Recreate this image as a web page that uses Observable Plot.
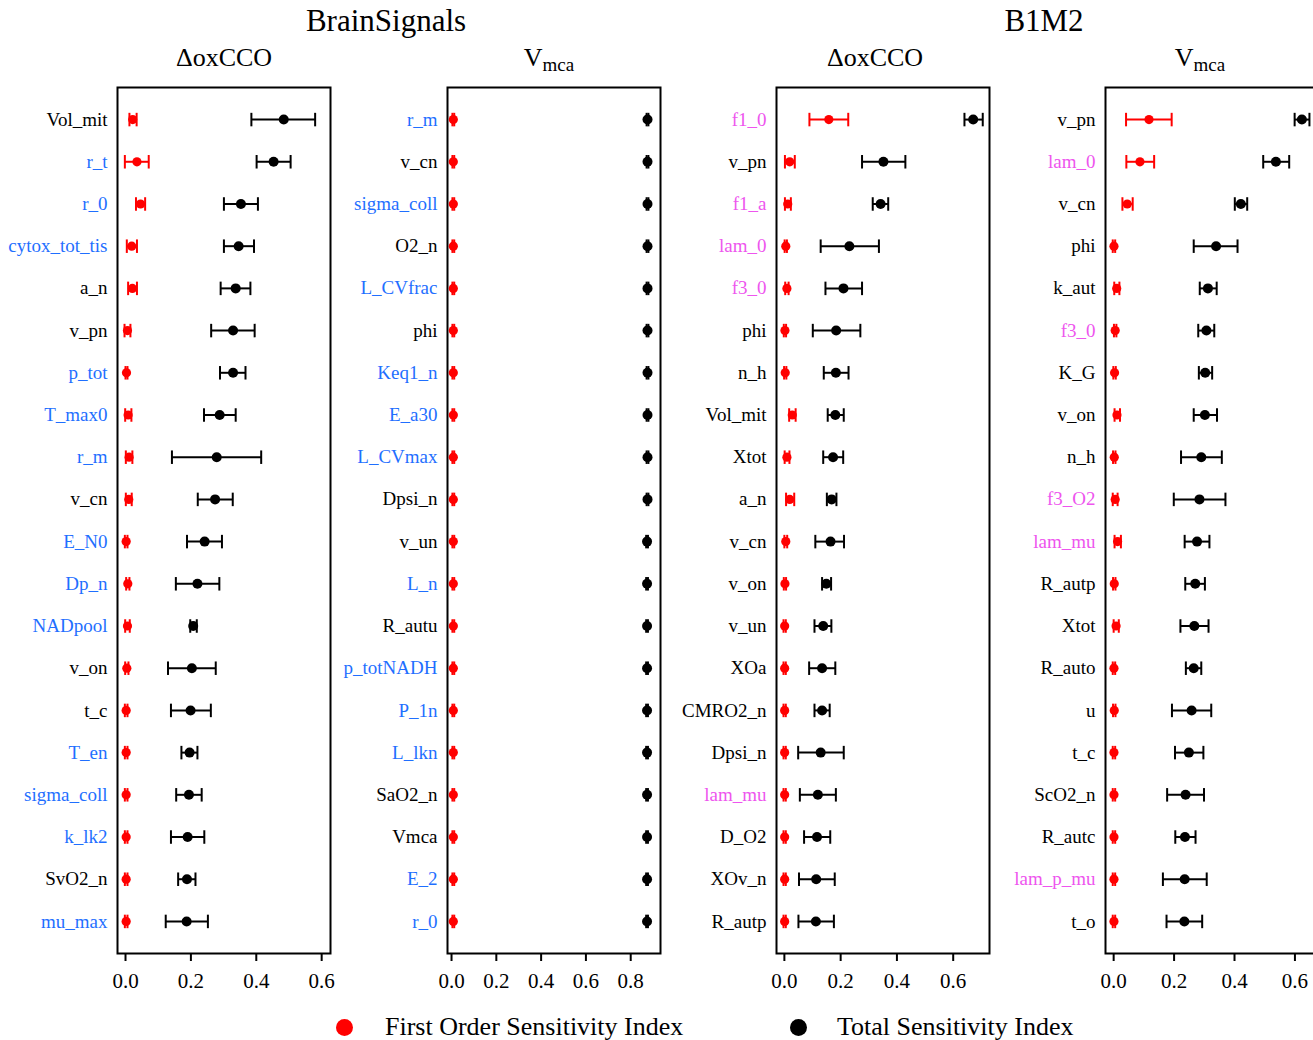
<!DOCTYPE html>
<html>
<head>
<meta charset="utf-8">
<script src="https://cdn.jsdelivr.net/npm/d3@7"></script>
<script src="https://cdn.jsdelivr.net/npm/@observablehq/plot@0.6"></script>
<style>
  html, body { margin: 0; padding: 0; background: #fff; }
  body { width: 1313px; height: 1040px; overflow: hidden; position: relative; font-family: "Liberation Serif", "DejaVu Serif", serif; color: #000; }
  .abs { position: absolute; font-family: "Liberation Serif", serif; }
  .title { font-size: 31px; transform: translateX(-50%); white-space: nowrap; }
  .sub { font-size: 26px; transform: translateX(-50%); white-space: nowrap; }
  .sub sub { font-size: 19px; vertical-align: -5px; }
  .legend { font-size: 26px; white-space: nowrap; display: flex; align-items: center; }
  .ldot { width: 17px; height: 17px; border-radius: 50%; display: inline-block; }
</style>
</head>
<body>
<script>
// ---------- DATA ----------
// Panel 1: BrainSignals, ΔoxCCO
const p1Names = ["Vol_mit","r_t","r_0","cytox_tot_tis","a_n","v_pn","p_tot","T_max0","r_m","v_cn","E_N0","Dp_n","NADpool","v_on","t_c","T_en","sigma_coll","k_lk2","SvO2_n","mu_max"];
const p1Group = ["k","b","b","b","k","k","b","b","b","k","b","b","b","k","k","b","b","b","k","b"];
const p1First   = [0.022,0.035,0.046,0.019,0.021,0.006,0.003,0.008,0.011,0.010,0.002,0.007,0.006,0.004,0.002,0.002,0.002,0.002,0.002,0.002];
const p1FirstLo = [0.012,-0.002,0.032,0.004,0.008,-0.003,0.000,-0.001,0.001,0.001,-0.002,0.002,-0.001,-0.001,-0.002,-0.002,-0.002,-0.002,-0.002,-0.002];
const p1FirstHi = [0.034,0.071,0.060,0.035,0.035,0.015,0.006,0.018,0.021,0.019,0.006,0.012,0.013,0.009,0.006,0.006,0.006,0.006,0.006,0.006];
const p1Total   = [0.484,0.453,0.353,0.346,0.337,0.329,0.329,0.288,0.279,0.274,0.242,0.220,0.207,0.203,0.199,0.196,0.194,0.190,0.188,0.187];
const p1TotalLo = [0.385,0.401,0.301,0.301,0.291,0.262,0.289,0.240,0.142,0.221,0.188,0.154,0.198,0.130,0.139,0.171,0.155,0.139,0.161,0.123];
const p1TotalHi = [0.580,0.505,0.405,0.393,0.382,0.395,0.367,0.337,0.415,0.328,0.295,0.287,0.218,0.276,0.261,0.220,0.233,0.241,0.214,0.252];

// Panel 2: BrainSignals, Vmca
const p2Names = ["r_m","v_cn","sigma_coll","O2_n","L_CVfrac","phi","Keq1_n","E_a30","L_CVmax","Dpsi_n","v_un","L_n","R_autu","p_totNADH","P_1n","L_lkn","SaO2_n","Vmca","E_2","r_0"];
const p2Group = ["b","k","b","k","b","k","b","b","b","k","k","b","k","b","b","b","k","k","b","b"];
const p2First   = [0.008,0.008,0.008,0.008,0.008,0.008,0.008,0.008,0.008,0.008,0.008,0.008,0.008,0.008,0.008,0.008,0.008,0.008,0.008,0.008];
const p2FirstLo = [0.004,0.004,0.004,0.004,0.004,0.004,0.004,0.004,0.004,0.004,0.004,0.004,0.004,0.004,0.004,0.004,0.004,0.004,0.004,0.004];
const p2FirstHi = [0.012,0.012,0.012,0.012,0.012,0.012,0.012,0.012,0.012,0.012,0.012,0.012,0.012,0.012,0.012,0.012,0.012,0.012,0.012,0.012];
const p2Total   = [0.875,0.875,0.875,0.875,0.875,0.875,0.875,0.875,0.875,0.875,0.873,0.873,0.873,0.873,0.873,0.873,0.873,0.873,0.873,0.873];
const p2TotalLo = [0.871,0.871,0.871,0.871,0.871,0.871,0.871,0.871,0.871,0.871,0.869,0.869,0.869,0.869,0.869,0.869,0.869,0.869,0.869,0.869];
const p2TotalHi = [0.879,0.879,0.879,0.879,0.879,0.879,0.879,0.879,0.879,0.879,0.877,0.877,0.877,0.877,0.877,0.877,0.877,0.877,0.877,0.877];

// Panel 3: B1M2, ΔoxCCO
const p3Names = ["f1_0","v_pn","f1_a","lam_0","f3_0","phi","n_h","Vol_mit","Xtot","a_n","v_cn","v_on","v_un","XOa","CMRO2_n","Dpsi_n","lam_mu","D_O2","XOv_n","R_autp"];
const p3Group = ["m","k","m","m","m","k","k","k","k","k","k","k","k","k","k","k","m","k","k","k"];
const p3First   = [0.158,0.019,0.012,0.005,0.009,0.002,0.003,0.028,0.009,0.019,0.005,0.002,0.001,0.001,0.001,0.001,0.001,0.001,0.001,0.001];
const p3FirstLo = [0.089,0.002,0.002,0.001,0.003,-0.002,-0.001,0.017,0.001,0.006,0.000,-0.002,-0.003,-0.003,-0.003,-0.003,-0.003,-0.003,-0.003,-0.003];
const p3FirstHi = [0.227,0.037,0.023,0.009,0.015,0.006,0.007,0.040,0.018,0.035,0.010,0.006,0.005,0.005,0.005,0.005,0.005,0.005,0.005,0.005];
const p3Total   = [0.671,0.352,0.342,0.231,0.210,0.184,0.183,0.181,0.173,0.168,0.164,0.149,0.138,0.134,0.134,0.129,0.119,0.116,0.113,0.112];
const p3TotalLo = [0.640,0.276,0.314,0.129,0.146,0.101,0.140,0.154,0.138,0.151,0.110,0.134,0.107,0.088,0.107,0.049,0.055,0.070,0.052,0.050];
const p3TotalHi = [0.705,0.430,0.369,0.336,0.276,0.270,0.228,0.211,0.209,0.185,0.212,0.166,0.167,0.181,0.161,0.211,0.183,0.163,0.179,0.176];

// Panel 4: B1M2, Vmca
const p4Names = ["v_pn","lam_0","v_cn","phi","k_aut","f3_0","K_G","v_on","n_h","f3_O2","lam_mu","R_autp","Xtot","R_auto","u","t_c","ScO2_n","R_autc","lam_p_mu","t_o"];
const p4Group = ["k","m","k","k","k","m","k","k","k","m","m","k","k","k","k","k","k","k","m","k"];
const p4First   = [0.117,0.087,0.045,0.001,0.010,0.005,0.003,0.011,0.002,0.005,0.013,0.002,0.008,0.001,0.002,0.001,0.001,0.001,0.001,0.001];
const p4FirstLo = [0.041,0.042,0.029,-0.003,0.002,0.001,-0.001,0.003,-0.002,-0.003,0.003,-0.002,0.000,-0.003,-0.002,-0.003,-0.003,-0.003,-0.003,-0.003];
const p4FirstHi = [0.192,0.134,0.063,0.005,0.019,0.009,0.007,0.021,0.006,0.013,0.024,0.006,0.017,0.005,0.006,0.005,0.005,0.005,0.005,0.005];
const p4Total   = [0.623,0.537,0.421,0.339,0.312,0.307,0.303,0.302,0.290,0.284,0.276,0.270,0.267,0.265,0.258,0.249,0.238,0.236,0.235,0.234];
const p4TotalLo = [0.599,0.495,0.401,0.265,0.285,0.280,0.282,0.265,0.223,0.199,0.235,0.237,0.221,0.239,0.193,0.203,0.177,0.204,0.163,0.175];
const p4TotalHi = [0.648,0.581,0.442,0.410,0.341,0.333,0.326,0.342,0.358,0.370,0.317,0.302,0.314,0.290,0.323,0.297,0.299,0.271,0.308,0.293];

const groupColors = {k: "#000000", b: "#1f6fff", m: "#ee55ee"};
const firstColor = "#ff0000";
const totalColor = "#000000";

const ticks06 = [0, 0.2, 0.4, 0.6];
const ticks08 = [0, 0.2, 0.4, 0.6, 0.8];

const panelTitles = ["BrainSignals", "B1M2"];
const seriesNames = ["First Order Sensitivity Index", "Total Sensitivity Index"];

// ---------- LAYOUT ----------
const panels = [
  {names: p1Names, group: p1Group, f: p1First, fl: p1FirstLo, fh: p1FirstHi, t: p1Total, tl: p1TotalLo, th: p1TotalHi,
   xdom: [-0.0245, 0.627], ticks: ticks06, frameLeft: 117},
  {names: p2Names, group: p2Group, f: p2First, fl: p2FirstLo, fh: p2FirstHi, t: p2Total, tl: p2TotalLo, th: p2TotalHi,
   xdom: [-0.018, 0.933], ticks: ticks08, frameLeft: 447},
  {names: p3Names, group: p3Group, f: p3First, fl: p3FirstLo, fh: p3FirstHi, t: p3Total, tl: p3TotalLo, th: p3TotalHi,
   xdom: [-0.028, 0.729], ticks: ticks06, frameLeft: 776},
  {names: p4Names, group: p4Group, f: p4First, fl: p4FirstLo, fh: p4FirstHi, t: p4Total, tl: p4TotalLo, th: p4TotalHi,
   xdom: [-0.027, 0.678], ticks: ticks06, frameLeft: 1105}
];

const mL = 115, mR = 20, mT = 7, mB = 45, frameW = 213, frameH = 866, svgTop = 80;
const cap = 0.16;

panels.forEach(p => {
  const rows = p.names.map((name, i) => ({
    name, i, color: groupColors[p.group[i]],
    f: p.f[i], fl: p.fl[i], fh: p.fh[i], t: p.t[i], tl: p.tl[i], th: p.th[i]
  }));
  const errMarks = (lo, hi, v, color, r) => [
    Plot.link(rows, {x1: lo, x2: hi, y1: "i", y2: "i", stroke: color, strokeWidth: 2}),
    Plot.link(rows, {x1: lo, x2: lo, y1: d => d.i - cap, y2: d => d.i + cap, stroke: color, strokeWidth: 2}),
    Plot.link(rows, {x1: hi, x2: hi, y1: d => d.i - cap, y2: d => d.i + cap, stroke: color, strokeWidth: 2}),
    Plot.dot(rows, {x: v, y: "i", r, fill: color, stroke: "none"})
  ];
  const chart = Plot.plot({
    width: mL + frameW + mR,
    height: mT + frameH + mB,
    marginLeft: mL, marginRight: mR, marginTop: mT, marginBottom: mB,
    style: {fontFamily: "'Liberation Serif', serif", fontSize: "20px", background: "transparent", color: "#000", overflow: "visible"},
    x: {domain: p.xdom},
    y: {domain: [-0.76, 19.76], reverse: true, axis: null},
    marks: [
      Plot.frame({stroke: "#000", strokeWidth: 2}),
      Plot.axisX({ticks: p.ticks, tickFormat: d3.format(".1f"), tickSize: 8, tickPadding: 12, strokeWidth: 2, fontSize: 21, fontFamily: "Liberation Serif", label: null}),
      ...errMarks("tl", "th", "t", totalColor, 5),
      ...errMarks("fl", "fh", "f", firstColor, 4.6),
      Plot.text(rows, {y: "i", text: "name", frameAnchor: "left", dx: -10, textAnchor: "end", fill: "color", fontSize: 19, fontFamily: "Liberation Serif"})
    ]
  });
  chart.style.position = "absolute";
  chart.style.left = (p.frameLeft - mL) + "px";
  chart.style.top = svgTop + "px";
  document.body.appendChild(chart);
});

// ---------- TITLES ----------
function addDiv(cls, html, left, top) {
  const d = document.createElement("div");
  d.className = "abs " + cls;
  d.innerHTML = html;
  d.style.left = left + "px";
  d.style.top = top + "px";
  document.body.appendChild(d);
  return d;
}
addDiv("title", panelTitles[0], 386, 3);
addDiv("title", panelTitles[1], 1044, 3);
addDiv("sub", "&Delta;oxCCO", 224, 43);
addDiv("sub", "V<sub>mca</sub>", 549, 43);
addDiv("sub", "&Delta;oxCCO", 875, 43);
addDiv("sub", "V<sub>mca</sub>", 1200, 43);

// ---------- LEGEND ----------
addDiv("legend", `<span class="ldot" style="background:${firstColor}"></span><span style="margin-left:32px">${seriesNames[0]}</span>`, 336, 1012);
addDiv("legend", `<span class="ldot" style="background:${totalColor}"></span><span style="margin-left:30px">${seriesNames[1]}</span>`, 790, 1012);
</script>
</body>
</html>
